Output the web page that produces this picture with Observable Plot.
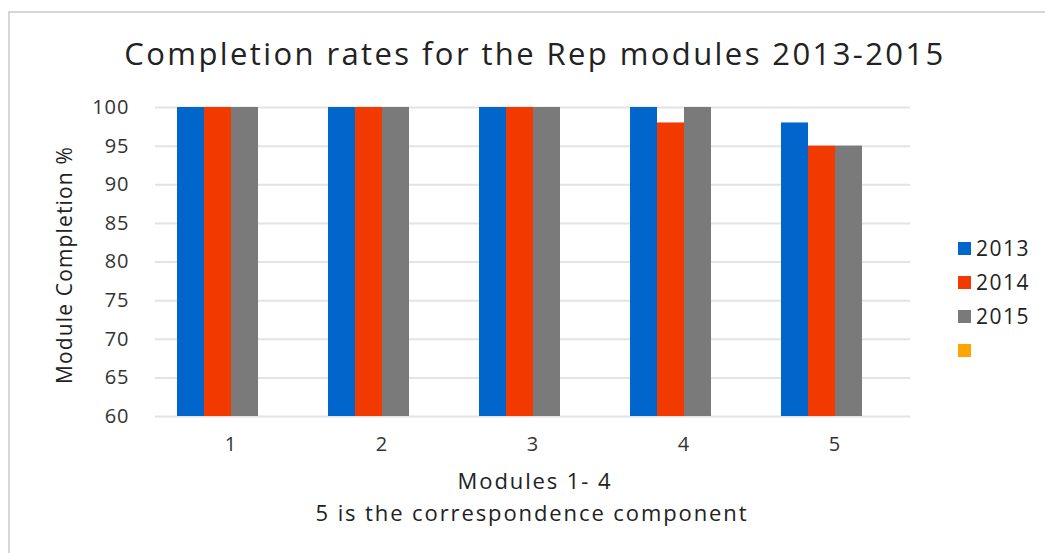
<!DOCTYPE html>
<html>
<head>
<meta charset="utf-8">
<script src="https://cdn.jsdelivr.net/npm/d3@7"></script>
<script src="https://cdn.jsdelivr.net/npm/@observablehq/plot@0.6"></script>
<style>
  html, body { margin: 0; padding: 0; background: #fff; }
  body { width: 1045px; height: 553px; position: relative; overflow: hidden; font-family: "Open Sans", sans-serif; color: #222; }
  #frame { position: absolute; left: 8px; top: 11px; right: -10px; bottom: -10px; border-left: 2px solid #d6d6d6; border-top: 2px solid #d6d6d6; }
  #title { position: absolute; left: 0; width: 1070px; top: 33px; text-align: center; font-size: 31px; letter-spacing: 2.4px; line-height: 40px; white-space: nowrap; }
  #chart { position: absolute; left: 0; top: 90px; }
  #ylabel { position: absolute; left: -86px; top: 250px; width: 300px; height: 30px; line-height: 30px; text-align: center; font-size: 21px; letter-spacing: 1.15px; transform: rotate(-90deg); white-space: nowrap; color: #222; }
  #xlabel1 { position: absolute; left: 0; width: 1070px; top: 466px; text-align: center; font-size: 22px; line-height: 28px; letter-spacing: 1.9px; white-space: nowrap; }
  #xlabel2 { position: absolute; left: 0; width: 1064px; top: 498px; text-align: center; font-size: 22px; line-height: 28px; letter-spacing: 1.9px; white-space: nowrap; }
  #legend { position: absolute; left: 958px; top: 231px; }
  .item { height: 34px; display: flex; align-items: center; font-size: 21px; letter-spacing: 1.5px; color: #222; }
  .sw { width: 13px; height: 13px; margin-right: 5px; }
</style>
</head>
<body>
<div id="frame"></div>
<div id="title"></div>
<div id="chart"></div>
<div id="ylabel"></div>
<div id="xlabel1"></div>
<div id="xlabel2"></div>
<div id="legend"></div>
<script>
const titleText = "Completion rates for the Rep modules 2013-2015";
const yLabel = "Module Completion %";
const xLabelLine1 = "Modules 1- 4";
const xLabelLine2 = "5 is the correspondence component";

const modules = ["1", "2", "3", "4", "5"];
// four series in the legend; the fourth has no name and no values
const seriesNames = ["2013", "2014", "2015", ""];
const values2013 = [100, 100, 100, 100, 98];
const values2014 = [100, 100, 100, 98, 95];
const values2015 = [100, 100, 100, 100, 95];
const yTicks = [60, 65, 70, 75, 80, 85, 90, 95, 100];
const seriesColors = ["#0066cc", "#f23a00", "#7a7a7a", "#ffa500"];

const seriesValues = [values2013, values2014, values2015];
const data = modules.flatMap((m, i) =>
  seriesValues.map((vals, j) => ({ module: m, year: seriesNames[j], value: vals[i] }))
);

document.getElementById("title").textContent = titleText;
document.getElementById("ylabel").textContent = yLabel;
document.getElementById("xlabel1").textContent = xLabelLine1;
document.getElementById("xlabel2").textContent = xLabelLine2;

const chart = Plot.plot({
  width: 940,
  height: 372,
  marginLeft: 155,
  marginRight: 30,
  marginTop: 17,
  marginBottom: 46,
  style: { fontFamily: "Open Sans, sans-serif", fontSize: "20px", letterSpacing: "1px", color: "#333", background: "transparent" },
  fx: { domain: modules, padding: 0, label: null, tickSize: 0, tickPadding: 20, axis: "bottom" },
  x: { domain: seriesNames, paddingInner: 0, paddingOuter: 0.75, axis: null },
  y: { domain: [60, 100], ticks: yTicks, tickSize: 0, tickPadding: 26, label: null },
  color: { domain: seriesNames, range: seriesColors },
  marks: [
    Plot.gridY(yTicks, { stroke: "#e3e3e3", strokeOpacity: 1, strokeWidth: 2 }),
    Plot.barY(data, { fx: "module", x: "year", y1: 60, y2: "value", fill: "year", inset: 0 })
  ]
});
document.getElementById("chart").appendChild(chart);

const legend = document.getElementById("legend");
seriesNames.forEach((lab, i) => {
  const row = document.createElement("div");
  row.className = "item";
  const sw = document.createElement("div");
  sw.className = "sw";
  sw.style.background = seriesColors[i];
  const t = document.createElement("span");
  t.textContent = lab;
  row.appendChild(sw);
  row.appendChild(t);
  legend.appendChild(row);
});
</script>
</body>
</html>
